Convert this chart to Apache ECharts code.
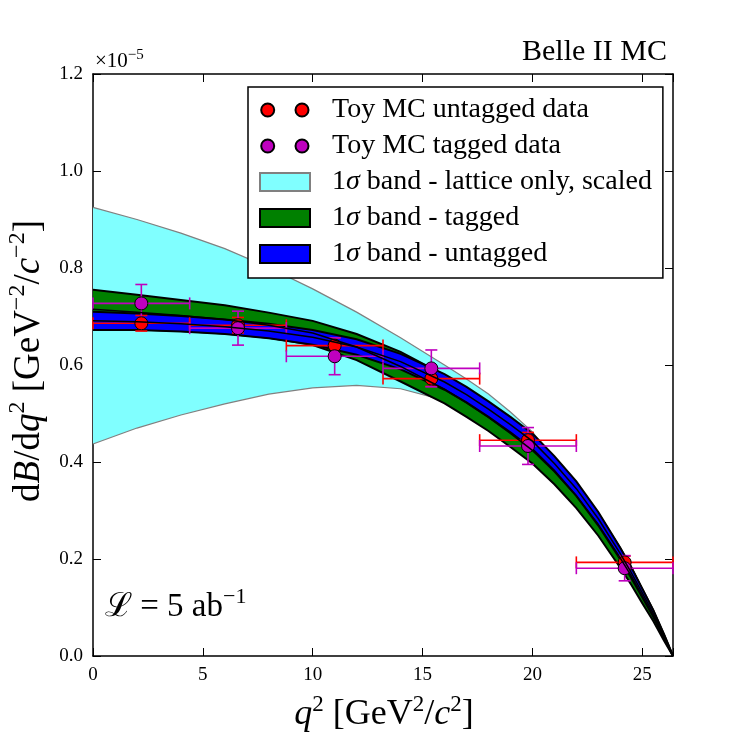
<!DOCTYPE html>
<html>
<head>
<meta charset="utf-8">
<script src="https://cdn.jsdelivr.net/npm/echarts@6/dist/echarts.min.js"></script>
<style>
  html, body { margin: 0; padding: 0; background: #fff; }
  #chart { width: 750px; height: 750px; }
</style>
</head>
<body>
<div id="chart"></div>
<script>
var FONT = '"Liberation Serif", "DejaVu Serif", serif';

// q2 grid for the fit bands (GeV^2/c^2), values in units of 1e-5
var q2 = [0, 2, 4, 6, 8, 10, 12, 14, 16, 17, 18, 19, 20, 21, 22, 23, 24, 24.5, 25, 25.5, 26, 26.4];

var latticeUp = [0.925, 0.900, 0.872, 0.840, 0.801, 0.757, 0.709, 0.656, 0.600, 0.571, 0.540, 0.503, 0.462, 0.405, 0.352, 0.290, 0.217, 0.178, 0.135, 0.090, 0.040, 0];
var latticeLo = [0.437, 0.470, 0.497, 0.520, 0.540, 0.553, 0.558, 0.551, 0.527, 0.508, 0.484, 0.457, 0.425, 0.385, 0.335, 0.275, 0.205, 0.168, 0.128, 0.085, 0.038, 0];

var taggedUp  = [0.755, 0.745, 0.734, 0.723, 0.708, 0.691, 0.664, 0.627, 0.579, 0.551, 0.520, 0.487, 0.451, 0.406, 0.355, 0.294, 0.222, 0.183, 0.139, 0.094, 0.043, 0];
var taggedLo  = [0.675, 0.673, 0.670, 0.665, 0.656, 0.641, 0.610, 0.566, 0.521, 0.493, 0.464, 0.431, 0.397, 0.354, 0.305, 0.248, 0.182, 0.147, 0.109, 0.072, 0.031, 0];
var taggedMid = [0.715, 0.709, 0.702, 0.694, 0.682, 0.666, 0.637, 0.597, 0.550, 0.522, 0.492, 0.459, 0.424, 0.380, 0.330, 0.271, 0.202, 0.165, 0.124, 0.083, 0.037, 0];

var untaggedUp  = [0.710, 0.706, 0.701, 0.694, 0.685, 0.672, 0.653, 0.623, 0.581, 0.555, 0.525, 0.493, 0.459, 0.412, 0.360, 0.297, 0.223, 0.183, 0.139, 0.095, 0.044, 0];
var untaggedLo  = [0.672, 0.672, 0.669, 0.664, 0.655, 0.642, 0.621, 0.591, 0.549, 0.523, 0.493, 0.461, 0.427, 0.382, 0.330, 0.269, 0.199, 0.161, 0.121, 0.081, 0.036, 0];
var untaggedMid = [0.691, 0.689, 0.685, 0.679, 0.670, 0.657, 0.637, 0.607, 0.565, 0.539, 0.509, 0.477, 0.443, 0.397, 0.345, 0.283, 0.211, 0.172, 0.130, 0.088, 0.040, 0];

// toy MC data points, 6 bins
var binCentre = [2.2, 6.6, 11.0, 15.4, 19.8, 24.2];
var binLow    = [0, 4.4, 8.8, 13.2, 17.6, 22.0];
var binHigh   = [4.4, 8.8, 13.2, 17.6, 22.0, 26.4];
var untaggedData = [0.686, 0.682, 0.640, 0.572, 0.445, 0.193];
var untaggedErr  = [0.016, 0.016, 0.016, 0.016, 0.016, 0.013];
var taggedData   = [0.727, 0.676, 0.618, 0.593, 0.433, 0.181];
var taggedErr    = [0.039, 0.035, 0.038, 0.038, 0.038, 0.026];

var chart = echarts.init(document.getElementById('chart'), null, { renderer: 'canvas' });

function bandSeries(name, lo, hi, fill, edge, edgeWidth) {
  return {
    type: 'custom',
    name: name,
    coordinateSystem: 'cartesian2d',
    silent: true,
    itemStyle: { color: fill, borderColor: edge, borderWidth: 1.5 },
    data: q2.map(function (q, i) { return [q, lo[i], hi[i]]; }),
    encode: { x: 0, y: [1, 2] },
    renderItem: function (params, api) {
      if (params.dataIndex !== 0) return;
      var top = [], bot = [];
      for (var i = 0; i < q2.length; i++) {
        top.push(api.coord([q2[i], hi[i]]));
        bot.push(api.coord([q2[i], lo[i]]));
      }
      var poly = top.concat(bot.slice().reverse());
      return {
        type: 'group',
        children: [
          { type: 'polygon', shape: { points: poly }, style: { fill: fill, stroke: null } },
          { type: 'polyline', shape: { points: top }, style: { fill: null, stroke: edge, lineWidth: edgeWidth } },
          { type: 'polyline', shape: { points: bot }, style: { fill: null, stroke: edge, lineWidth: edgeWidth } }
        ]
      };
    }
  };
}

function centreLine(mid) {
  return {
    type: 'line',
    silent: true,
    showSymbol: false,
    symbol: 'none',
    data: q2.map(function (q, i) { return [q, mid[i]]; }),
    lineStyle: { color: '#000', width: 1.5 }
  };
}

function errorBars(ys, errs, color) {
  return {
    type: 'custom',
    silent: true,
    data: binCentre.map(function (x, i) {
      return [x, ys[i], binLow[i], binHigh[i], ys[i] - errs[i], ys[i] + errs[i]];
    }),
    encode: { x: [0, 2, 3], y: [1, 4, 5] },
    renderItem: function (params, api) {
      var x = api.value(0), y = api.value(1);
      var l = api.coord([api.value(2), y]);
      var r = api.coord([api.value(3), y]);
      var b = api.coord([x, api.value(4)]);
      var t = api.coord([x, api.value(5)]);
      var c = 6;
      function seg(x1, y1, x2, y2) {
        return { type: 'line', shape: { x1: x1, y1: y1, x2: x2, y2: y2 },
                 style: { stroke: color, lineWidth: 1.6 } };
      }
      return {
        type: 'group',
        children: [
          seg(l[0], l[1], r[0], r[1]),
          seg(l[0], l[1] - c, l[0], l[1] + c),
          seg(r[0], r[1] - c, r[0], r[1] + c),
          seg(b[0], b[1], t[0], t[1]),
          seg(b[0] - c, b[1], b[0] + c, b[1]),
          seg(t[0] - c, t[1], t[0] + c, t[1])
        ]
      };
    }
  };
}

function points(name, ys, color) {
  return {
    type: 'scatter',
    name: name,
    symbol: 'circle',
    symbolSize: 13,
    data: binCentre.map(function (x, i) { return [x, ys[i]]; }),
    itemStyle: { color: color, borderColor: '#000', borderWidth: 1, opacity: 1 }
  };
}

var twoDots = 'path://M0,0 M50,18 M14.2,9 A6.5,6.5 0 1,1 1.2,9 A6.5,6.5 0 1,1 14.2,9 Z M48.5,9 A6.5,6.5 0 1,1 35.5,9 A6.5,6.5 0 1,1 48.5,9 Z';

var tickLabel = { color: '#000', fontFamily: FONT, fontSize: 19 };

function frameAxis(pos, max, interval, labels) {
  return {
    type: 'value', min: 0, max: max, interval: interval, position: pos,
    axisLine: { show: true, onZero: false, lineStyle: { color: '#000', width: 1.5 } },
    axisTick: { show: true, inside: true, length: 8, lineStyle: { color: '#000', width: 1 } },
    axisLabel: labels || { show: false },
    splitLine: { show: false }
  };
}

var option = {
  animation: false,
  backgroundColor: '#fff',
  grid: { left: 93, right: 77, top: 74, bottom: 94, containLabel: false, outerBoundsMode: 'none' },
  xAxis: [
    frameAxis('bottom', 26.4, 5, Object.assign({ margin: 10, formatter: function (v) { return v % 5 === 0 ? String(v) : ''; } }, tickLabel)),
    frameAxis('top', 26.4, 5)
  ],
  yAxis: [
    frameAxis('left', 1.2, 0.2, Object.assign({ margin: 10, formatter: function (v) { return v.toFixed(1); } }, tickLabel)),
    frameAxis('right', 1.2, 0.2)
  ],
  legend: {
    orient: 'vertical',
    left: 248,
    top: 87,
    backgroundColor: '#fff',
    borderColor: '#000',
    borderWidth: 1.5,
    borderRadius: 0,
    padding: [9, 11, 10, 11],
    itemWidth: 50,
    itemHeight: 18,
    itemGap: 8,
    selectedMode: false,
    textStyle: {
      fontFamily: FONT, fontSize: 28, color: '#000', lineHeight: 28, padding: [0, 0, 0, 17],
      rich: { g: { fontFamily: FONT, fontSize: 28, fontStyle: 'italic', lineHeight: 28, color: '#000' } }
    },
    formatter: function (name) { return name.replace('σ', '{g|σ}'); },
    data: [
      { name: 'Toy MC untagged data', icon: twoDots },
      { name: 'Toy MC tagged data', icon: twoDots },
      { name: '1σ band - lattice only, scaled', icon: 'rect' },
      { name: '1σ band - tagged', icon: 'rect' },
      { name: '1σ band - untagged', icon: 'rect' }
    ]
  },
  series: [
    bandSeries('1σ band - lattice only, scaled', latticeLo, latticeUp, '#80ffff', '#808080', 1.2),
    bandSeries('1σ band - tagged', taggedLo, taggedUp, '#008000', '#000', 2),
    bandSeries('1σ band - untagged', untaggedLo, untaggedUp, '#0000ff', '#000', 2),
    centreLine(taggedMid),
    centreLine(untaggedMid),
    errorBars(untaggedData, untaggedErr, '#ff0000'),
    points('Toy MC untagged data', untaggedData, '#ff0000'),
    errorBars(taggedData, taggedErr, '#bf00bf'),
    points('Toy MC tagged data', taggedData, '#bf00bf')
  ],
  graphic: [
    {
      type: 'text', x: 95, y: 61,
      style: {
        text: '{a|×10}{s|−5}', align: 'left', verticalAlign: 'middle',
        rich: {
          a: { fontFamily: FONT, fontSize: 21, lineHeight: 26, fill: '#000' },
          s: { fontFamily: FONT, fontSize: 15, verticalAlign: 'top', fill: '#000' }
        }
      }
    },
    {
      type: 'text', x: 667, y: 52,
      style: { text: 'Belle II MC', fontFamily: FONT, fontSize: 30, fill: '#000', align: 'right', verticalAlign: 'middle' }
    },
    {
      type: 'text', x: 105, y: 607,
      style: {
        text: '{a|ℒ = 5 ab}{s|−1}', align: 'left', verticalAlign: 'middle',
        rich: {
          a: { fontFamily: FONT, fontSize: 33, lineHeight: 42, fill: '#000' },
          s: { fontFamily: FONT, fontSize: 22, verticalAlign: 'top', fill: '#000' }
        }
      }
    },
    {
      type: 'text', x: 384, y: 715,
      style: {
        text: '{i|q}{s|2}{r| [GeV}{s|2}{r|/}{i|c}{s|2}{r|]}', align: 'center', verticalAlign: 'middle',
        rich: {
          r: { fontFamily: FONT, fontSize: 36, lineHeight: 44, fill: '#000' },
          i: { fontFamily: FONT, fontSize: 36, fontStyle: 'italic', lineHeight: 44, fill: '#000' },
          s: { fontFamily: FONT, fontSize: 23, verticalAlign: 'top', fill: '#000' }
        }
      }
    },
    {
      type: 'text', x: 29, y: 361, rotation: Math.PI / 2,
      style: {
        text: '{r|d}{i|B}{r|/d}{i|q}{s|2}{r| [GeV}{s|−2}{r|/}{i|c}{s|−2}{r|]}', align: 'center', verticalAlign: 'middle',
        rich: {
          r: { fontFamily: FONT, fontSize: 37, lineHeight: 46, fill: '#000' },
          i: { fontFamily: FONT, fontSize: 37, fontStyle: 'italic', lineHeight: 46, fill: '#000' },
          s: { fontFamily: FONT, fontSize: 24, verticalAlign: 'top', fill: '#000' }
        }
      }
    }
  ]
};

chart.setOption(option);
</script>
</body>
</html>
